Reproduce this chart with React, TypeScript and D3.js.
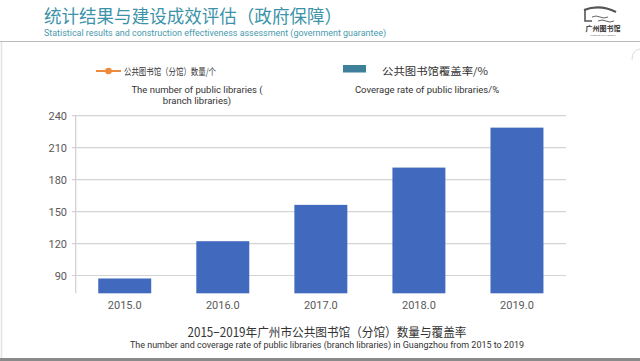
import React, { useEffect, useRef } from 'react';
import * as d3 from 'd3';

const years = [2015, 2016, 2017, 2018, 2019];
const coverage = [87.2, 122.2, 156.3, 191.3, 228.8];
const yTicks = [90, 120, 150, 180, 210, 240];

const headerTitle = '统计结果与建设成效评估（政府保障）';
const headerSub = 'Statistical results and construction effectiveness assessment (government guarantee)';
const chartTitle = '2015−2019年广州市公共图书馆（分馆）数量与覆盖率';
const chartSub = 'The number and coverage rate of public libraries (branch libraries) in Guangzhou from 2015 to 2019';
const legendNumCn = '公共图书馆（分馆）数量/个';
const legendNumEn = ['The number of public libraries (', 'branch libraries)'];
const legendCovCn = '公共图书馆覆盖率/%';
const legendCovEn = 'Coverage rate of public libraries/%';

const W = 640;
const H = 361;
const CJK = '"Noto Sans CJK SC", "Noto Sans", sans-serif';
const LATIN = 'Roboto, "Liberation Sans", sans-serif';

const App: React.FC = () => {
  const svgRef = useRef<SVGSVGElement>(null);

  useEffect(() => {
    if (!svgRef.current) return;
    const svg = d3.select(svgRef.current).html('');

    svg.append('rect').attr('width', W).attr('height', H).attr('fill', '#fff');

    // slide frame
    svg.append('line').attr('x1', 0).attr('x2', W).attr('y1', 41.5).attr('y2', 41.5)
      .attr('stroke', '#b8bcbc').attr('stroke-width', 1.2);
    svg.append('line').attr('x1', 1.5).attr('x2', 1.5).attr('y1', 42).attr('y2', 358)
      .attr('stroke', '#e2e2e2').attr('stroke-width', 1.5);
    svg.append('rect').attr('x', 0).attr('y', 358).attr('width', W).attr('height', 3).attr('fill', '#8a8a8a');
    svg.append('path').attr('d', 'M632,60 Q632,50 640,49').attr('fill', 'none')
      .attr('stroke', '#dcdcdc').attr('stroke-width', 1);

    // header
    svg.append('text').attr('x', 44).attr('y', 23)
      .attr('font-family', CJK).attr('font-size', 18).attr('fill', '#3c93a9')
      .attr('textLength', 298).attr('lengthAdjust', 'spacingAndGlyphs')
      .text(headerTitle);
    svg.append('text').attr('x', 44).attr('y', 36)
      .attr('font-family', LATIN).attr('font-size', 8.5).attr('fill', '#4a9aae')
      .attr('textLength', 342).attr('lengthAdjust', 'spacingAndGlyphs')
      .text(headerSub);

    // logo
    const logo = svg.append('g').attr('fill', 'none').attr('stroke', '#555');
    logo.append('path').attr('d', 'M584,10 Q600,4 616,12').attr('stroke-width', 2.2);
    logo.append('path').attr('d', 'M585,10 L585,21 L592,21').attr('stroke-width', 1.6);
    logo.append('path').attr('d', 'M592,17 q4,-2 8,0 t8,0').attr('stroke-width', 0.9);
    logo.append('path').attr('d', 'M598,21 q4,-2 8,0 t8,0').attr('stroke-width', 0.9);
    svg.append('text').attr('x', 603).attr('y', 31).attr('text-anchor', 'middle')
      .attr('font-family', CJK).attr('font-size', 7).attr('font-weight', 'bold').attr('fill', '#333')
      .text('广州图书馆');
    svg.append('text').attr('x', 603).attr('y', 36).attr('text-anchor', 'middle')
      .attr('font-family', LATIN).attr('font-size', 2.5).attr('fill', '#777')
      .text('GUANGZHOU LIBRARY');

    // legend
    const lg = svg.append('g');
    lg.append('line').attr('x1', 96).attr('x2', 121).attr('y1', 71).attr('y2', 71)
      .attr('stroke', '#ef8a3a').attr('stroke-width', 2);
    lg.append('circle').attr('cx', 108.5).attr('cy', 71).attr('r', 3.3).attr('fill', '#ef8a3a');
    lg.append('text').attr('x', 124).attr('y', 74.5)
      .attr('font-family', CJK).attr('font-size', 9.5).attr('fill', '#333')
      .attr('textLength', 92).attr('lengthAdjust', 'spacingAndGlyphs')
      .text(legendNumCn);
    legendNumEn.forEach((s, i) => {
      lg.append('text').attr('x', 197).attr('y', 92.5 + i * 11).attr('text-anchor', 'middle')
        .attr('font-family', LATIN).attr('font-size', 9.5).attr('fill', '#333')
        .text(s);
    });
    lg.append('rect').attr('x', 343).attr('y', 65).attr('width', 23).attr('height', 7.5)
      .attr('fill', '#3e7f9a');
    lg.append('text').attr('x', 382).attr('y', 74.5)
      .attr('font-family', CJK).attr('font-size', 10).attr('fill', '#333')
      .attr('textLength', 106).attr('lengthAdjust', 'spacingAndGlyphs')
      .text(legendCovCn);
    lg.append('text').attr('x', 427).attr('y', 92.5).attr('text-anchor', 'middle')
      .attr('font-family', LATIN).attr('font-size', 9.5).attr('fill', '#333')
      .text(legendCovEn);

    // plot
    const x0 = 75.7, x1 = 566, yTop = 115.7, yBottom = 293.3;
    const yScale = d3.scaleLinear().domain([73.3, 240]).range([yBottom, yTop]);
    const xScale = d3.scaleBand<number>().domain(years).range([x0, x1])
      .paddingInner(0.46).paddingOuter(0.23);

    const grid = svg.append('g');
    yTicks.forEach(t => {
      grid.append('line').attr('x1', x0 - 4).attr('x2', x1)
        .attr('y1', yScale(t)).attr('y2', yScale(t))
        .attr('stroke', '#d4d4d4').attr('stroke-width', 1.2);
      grid.append('text').attr('x', 67).attr('y', yScale(t) + 4).attr('text-anchor', 'end')
        .attr('font-family', LATIN).attr('font-size', 11).attr('fill', '#595959')
        .text(t);
    });
    grid.append('line').attr('x1', x0).attr('x2', x0).attr('y1', yTop).attr('y2', yBottom)
      .attr('stroke', '#cfcfcf').attr('stroke-width', 1.2);

    svg.append('g').selectAll('rect').data(years).enter().append('rect')
      .attr('x', d => xScale(d)!)
      .attr('width', xScale.bandwidth())
      .attr('y', (d, i) => yScale(coverage[i]))
      .attr('height', (d, i) => yBottom - yScale(coverage[i]))
      .attr('fill', '#4169bd');

    svg.append('g').selectAll('text').data(years).enter().append('text')
      .attr('x', d => xScale(d)! + xScale.bandwidth() / 2)
      .attr('y', 309)
      .attr('text-anchor', 'middle')
      .attr('font-family', LATIN).attr('font-size', 11).attr('fill', '#595959')
      .text(d => d.toFixed(1));

    // bottom title
    svg.append('text').attr('x', 327).attr('y', 337).attr('text-anchor', 'middle')
      .attr('font-family', CJK).attr('font-size', 12.5).attr('fill', '#333')
      .attr('textLength', 279).attr('lengthAdjust', 'spacingAndGlyphs')
      .text(chartTitle);
    svg.append('text').attr('x', 327).attr('y', 348).attr('text-anchor', 'middle')
      .attr('font-family', LATIN).attr('font-size', 8.5).attr('fill', '#333')
      .attr('textLength', 394).attr('lengthAdjust', 'spacingAndGlyphs')
      .text(chartSub);
  }, []);

  return (
    <svg ref={svgRef} width={W} height={H}
      style={{ position: 'absolute', left: 0, top: 0, display: 'block' }} />
  );
};

export default App;
